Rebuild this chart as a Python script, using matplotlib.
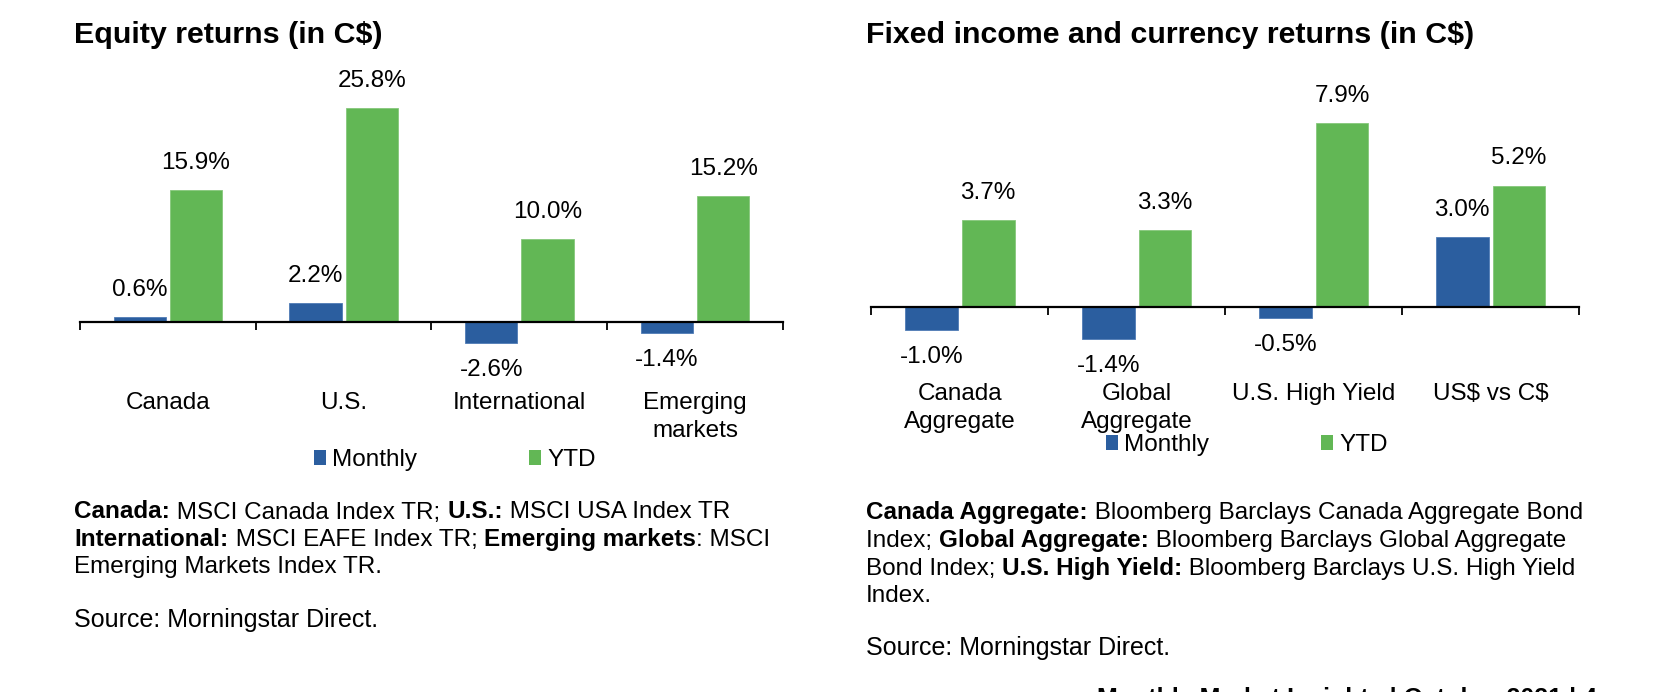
import matplotlib
matplotlib.use('Agg')
import matplotlib.pyplot as plt
import numpy as np
from matplotlib.patches import Patch
from matplotlib.font_manager import FontProperties

plt.rcParams['font.family'] = ['Liberation Sans', 'DejaVu Sans']

# Données
eq_categories = ['Canada', 'U.S.', 'International', 'Emerging\nmarkets']
eq_monthly = [0.6, 2.2, -2.6, -1.4]
eq_ytd = [15.9, 25.8, 10.0, 15.2]

fi_categories = ['Canada\nAggregate', 'Global\nAggregate', 'U.S. High Yield', 'US\\$ vs C\\$']
fi_monthly = [-1.0, -1.4, -0.5, 3.0]
fi_ytd = [3.7, 3.3, 7.9, 5.2]

series_names = ['Monthly', 'YTD']

eq_notes = [
    [('Canada:', True), (' MSCI Canada Index TR; ', False), ('U.S.:', True), (' MSCI USA Index TR', False)],
    [('International:', True), (' MSCI EAFE Index TR; ', False), ('Emerging markets', True), (': MSCI', False)],
    [('Emerging Markets Index TR.', False)],
]
fi_notes = [
    [('Canada Aggregate:', True), (' Bloomberg Barclays Canada Aggregate Bond', False)],
    [('Index; ', False), ('Global Aggregate:', True), (' Bloomberg Barclays Global Aggregate', False)],
    [('Bond Index; ', False), ('U.S. High Yield:', True), (' Bloomberg Barclays U.S. High Yield', False)],
    [('Index.', False)],
]

BLUE = '#2B5E9F'
GREEN = '#62B755'
W, H = 1656, 692
FS = 17.5

fig = plt.figure(figsize=(W / 100, H / 100), dpi=100)
renderer = fig.canvas.get_renderer()


def px_axes(x0, x1, y_top, y_bot):
    return fig.add_axes([x0 / W, 1 - y_bot / H, (x1 - x0) / W, (y_bot - y_top) / H])


def bar_chart(ax, cats, monthly, ytd, zero_px, px_per_unit, y_top, y_bot, label_pad):
    x = np.arange(len(cats))
    ax.bar(x - 0.16, monthly, 0.298, color=BLUE, edgecolor='#4f7bb5', linewidth=0.6)
    ax.bar(x + 0.16, ytd, 0.298, color=GREEN, edgecolor='#86c87b', linewidth=0.6)
    for xs, vals in ((x - 0.16, monthly), (x + 0.16, ytd)):
        for xi, v in zip(xs, vals):
            off = 19.5 if v >= 0 else -19.5
            ax.annotate(f'{v:.1f}%', (xi, v), xytext=(0, off), textcoords='offset points',
                        ha='center', va='center', fontsize=FS)
    ax.set_xlim(-0.5, len(cats) - 0.5)
    ax.set_ylim(-(y_bot - zero_px) / px_per_unit, (zero_px - y_top) / px_per_unit)
    for s in ('top', 'right', 'left'):
        ax.spines[s].set_visible(False)
    ax.spines['bottom'].set_position(('data', 0))
    ax.spines['bottom'].set_linewidth(1.6)
    ax.set_yticks([])
    ax.set_xticks(np.arange(len(cats) + 1) - 0.5)
    ax.set_xticks(x, minor=True)
    ax.set_xticklabels([])
    ax.set_xticklabels(cats, minor=True, fontsize=FS, linespacing=1.37)
    ax.tick_params(axis='x', which='major', direction='out', length=6, width=1.3)
    ax.tick_params(axis='x', which='minor', length=0, pad=label_pad)
    ax.patch.set_visible(False)


def text_width(s, bold, size):
    fp = FontProperties(family=['Liberation Sans', 'DejaVu Sans'], weight='bold' if bold else 'normal', size=size)
    w1, _, _ = renderer.get_text_width_height_descent(s + '|', fp, ismath=False)
    w2, _, _ = renderer.get_text_width_height_descent('|', fp, ismath=False)
    return w1 - w2


def rich_lines(x_px, y_px, lines, size, step):
    for i, pieces in enumerate(lines):
        x = x_px
        for txt, bold in pieces:
            fig.text(x / W, 1 - (y_px + i * step) / H, txt, fontsize=size,
                     fontweight='bold' if bold else 'normal', ha='left', va='baseline')
            x += text_width(txt, bold, size)


# Graphique actions
ax1 = px_axes(80, 783, 70, 460)
bar_chart(ax1, eq_categories, eq_monthly, eq_ytd, 321.7, 8.28, 70, 460, 50.5)

# Graphique revenu fixe
ax2 = px_axes(871.5, 1579, 70, 460)
bar_chart(ax2, fi_categories, fi_monthly, fi_ytd, 306.7, 23.3, 70, 460, 55)

# Titres
fig.text(74.5 / W, 1 - 43 / H, 'Equity returns (in C\\$)', fontsize=21.9, fontweight='bold', va='baseline')
fig.text(866 / W, 1 - 43 / H, 'Fixed income and currency returns (in C\\$)', fontsize=21.9,
         fontweight='bold', va='baseline')

# Légendes
handles = [Patch(facecolor=BLUE), Patch(facecolor=GREEN)]
for cx, cy in ((455, 460), (1247, 445)):
    fig.legend(handles, series_names, loc='center', bbox_to_anchor=(cx / W, 1 - cy / H),
               ncol=2, frameon=False, fontsize=FS, handlelength=0.5, handleheight=0.55,
               handletextpad=0.25, columnspacing=4.6, borderpad=0, borderaxespad=0)

# Notes
rich_lines(74.5, 518.5, eq_notes, 17.5, 27.3)
rich_lines(866, 518.5, fi_notes, 17.5, 28)
fig.text(74.5 / W, 1 - 627 / H, 'Source: Morningstar Direct.', fontsize=18, va='baseline')
fig.text(866 / W, 1 - 655 / H, 'Source: Morningstar Direct.', fontsize=18, va='baseline')

# Pied de page (coupé comme dans l'original)
fig.text(1097 / W, 1 - 706 / H, 'Monthly Market Insights | October 2021 | 4', fontsize=18,
         fontweight='bold', va='baseline')

fig.savefig('out.png', dpi=100)
